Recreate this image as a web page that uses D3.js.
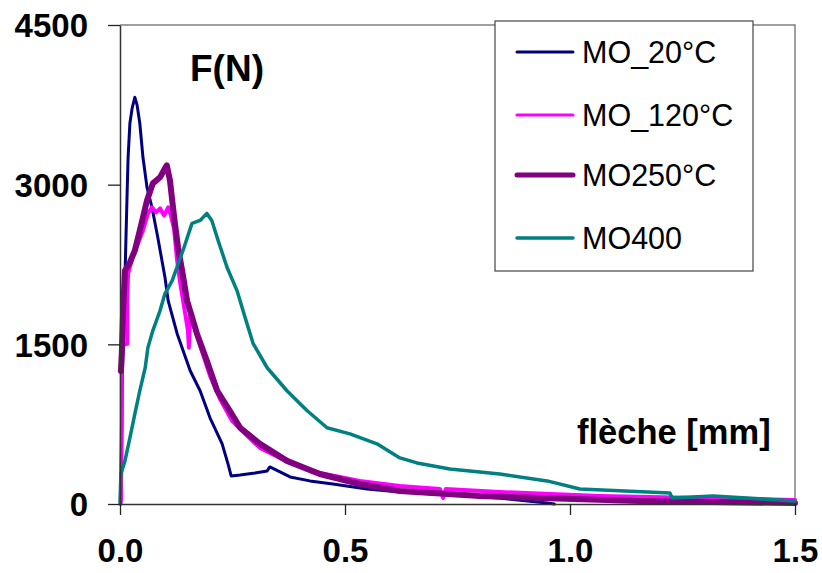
<!DOCTYPE html>
<html><head><meta charset="utf-8">
<script src="https://cdn.jsdelivr.net/npm/d3@7"></script>
<style>
body{margin:0;background:#fff;}
svg{display:block;font-family:"Liberation Sans",Arial,sans-serif;}
</style></head><body>
<svg id="c" width="822" height="573"></svg>
<script>
const seriesNames = ["MO_20°C", "MO_120°C", "MO250°C", "MO400"];
const xTicks = [0, 0.5, 1.0, 1.5];
const yTicks = [0, 1500, 3000, 4500];
const xTitle = "flèche [mm]";
const yTitle = "F(N)";

const mo20X = [0.002,0.004,0.007,0.011,0.016,0.018,0.022,0.027,0.033,0.038,0.044,0.051,0.060,0.071,0.084,0.100,0.107,0.127,0.156,0.178,0.200,0.227,0.240,0.247,0.267,0.300,0.327,0.333,0.351,0.378,0.422,0.473,0.549,0.622,0.733,0.844,0.949,0.965];
const mo20F = [0,781,1629,2128,2947,3257,3577,3719,3820,3747,3577,3257,2975,2787,2504,2128,1911,1600,1252,1064,810,565,377,264,273,292,311,348,311,254,217,188,141,113,85,56,9,0];

const mo120X = [0.002,0.004,0.004,0.016,0.016,0.018,0.029,0.040,0.051,0.062,0.071,0.080,0.089,0.098,0.107,0.113,0.120,0.127,0.133,0.142,0.151,0.153,0.156,0.178,0.200,0.222,0.249,0.278,0.311,0.378,0.444,0.533,0.622,0.711,0.718,0.724,0.844,1.067,1.289,1.500];
const mo120F = [30,781,1487,1506,1911,2165,2335,2448,2570,2730,2787,2740,2777,2711,2787,2711,2589,2288,2099,1864,1629,1469,1789,1487,1205,988,781,659,527,386,292,217,169,141,56,141,113,75,56,38];

const mo250X = [0.002,0.004,0.007,0.011,0.022,0.033,0.044,0.051,0.060,0.073,0.089,0.100,0.104,0.111,0.116,0.122,0.129,0.138,0.149,0.171,0.193,0.216,0.244,0.267,0.311,0.371,0.444,0.533,0.622,0.800,1.156,1.500];
const mo250F = [1250,1412,1817,2193,2269,2382,2570,2692,2852,3012,3069,3154,3182,3041,2852,2636,2410,2193,1911,1600,1346,1064,876,716,565,405,282,188,122,75,28,9];

const mo400X = [0,0.002,0.011,0.022,0.033,0.044,0.056,0.062,0.073,0.089,0.100,0.116,0.140,0.160,0.178,0.193,0.204,0.218,0.238,0.260,0.278,0.296,0.327,0.371,0.416,0.460,0.511,0.571,0.622,0.660,0.733,0.844,0.949,1.022,1.222,1.227,1.318,1.500];
const mo400F = [0,282,405,621,847,1064,1280,1469,1629,1817,1977,2099,2382,2636,2664,2730,2664,2476,2222,2005,1751,1506,1280,1064,876,716,659,565,433,386,329,282,217,141,104,56,75,28];

const seriesX = [mo20X, mo120X, mo250X, mo400X];
const seriesF = [mo20F, mo120F, mo250F, mo400F];
const colors = ["#000080", "#FF00FF", "#800080", "#008080"];
const widths = [3, 4, 6, 3.5];
const legendWidths = [3, 3, 5, 3.5];

const svg = d3.select("#c");
const x = d3.scaleLinear().domain([0, 1.5]).range([120, 795]);
const y = d3.scaleLinear().domain([0, 4500]).range([504, 25]);

// plot frame (top/right grey)
svg.append("path").attr("d", `M120,25H795V504`).attr("fill","none").attr("stroke","#808080").attr("stroke-width",1.5);

const line = d3.line().x(d => x(d[0])).y(d => y(d[1]));
seriesX.forEach((xs, i) => {
  const pts = xs.map((v, j) => [v, seriesF[i][j]]);
  svg.append("path").datum(pts).attr("d", line)
    .attr("fill","none").attr("stroke", colors[i]).attr("stroke-width", widths[i])
    .attr("stroke-linejoin","round").attr("stroke-linecap","round");
});

// axes
const xAxis = svg.append("g").attr("transform","translate(0,504)")
  .call(d3.axisBottom(x).tickValues(xTicks).tickFormat(d3.format(".1f")).tickSize(11).tickSizeOuter(0));
const yAxis = svg.append("g").attr("transform","translate(120,0)")
  .call(d3.axisLeft(y).tickValues(yTicks).tickFormat(d3.format("d")).tickSize(12).tickSizeOuter(0));
[xAxis, yAxis].forEach(g => {
  g.select(".domain").attr("stroke","#333").attr("stroke-width",1.5);
  g.selectAll(".tick line").attr("stroke","#222").attr("stroke-width",1.3);
  g.selectAll("text").attr("font-family","'Liberation Sans',Arial,sans-serif")
    .attr("font-size",33).attr("font-weight","bold").attr("fill","#000");
});
xAxis.selectAll("text").attr("dy",null).attr("y",49).attr("dominant-baseline","middle");
yAxis.selectAll("text").attr("x",-32).attr("dy","0.36em");

// titles
svg.append("text").attr("x",190).attr("y",81).attr("font-size",37).attr("font-weight","bold").text(yTitle);
svg.append("text").attr("x",577).attr("y",444).attr("font-size",34.5).attr("font-weight","bold").text(xTitle);

// legend
const lg = svg.append("g");
lg.append("rect").attr("x",495).attr("y",21).attr("width",258).attr("height",250)
  .attr("fill","#fff").attr("stroke","#444").attr("stroke-width",1.2);
const ly = [52, 115, 175, 238];
seriesNames.forEach((n, i) => {
  lg.append("line").attr("x1",517).attr("x2",573).attr("y1",ly[i]).attr("y2",ly[i])
    .attr("stroke",colors[i]).attr("stroke-width",legendWidths[i]).attr("stroke-linecap","round");
  lg.append("text").attr("x",582).attr("y",ly[i]+11).attr("font-size",30.5).text(n);
});
</script>
</body></html>
